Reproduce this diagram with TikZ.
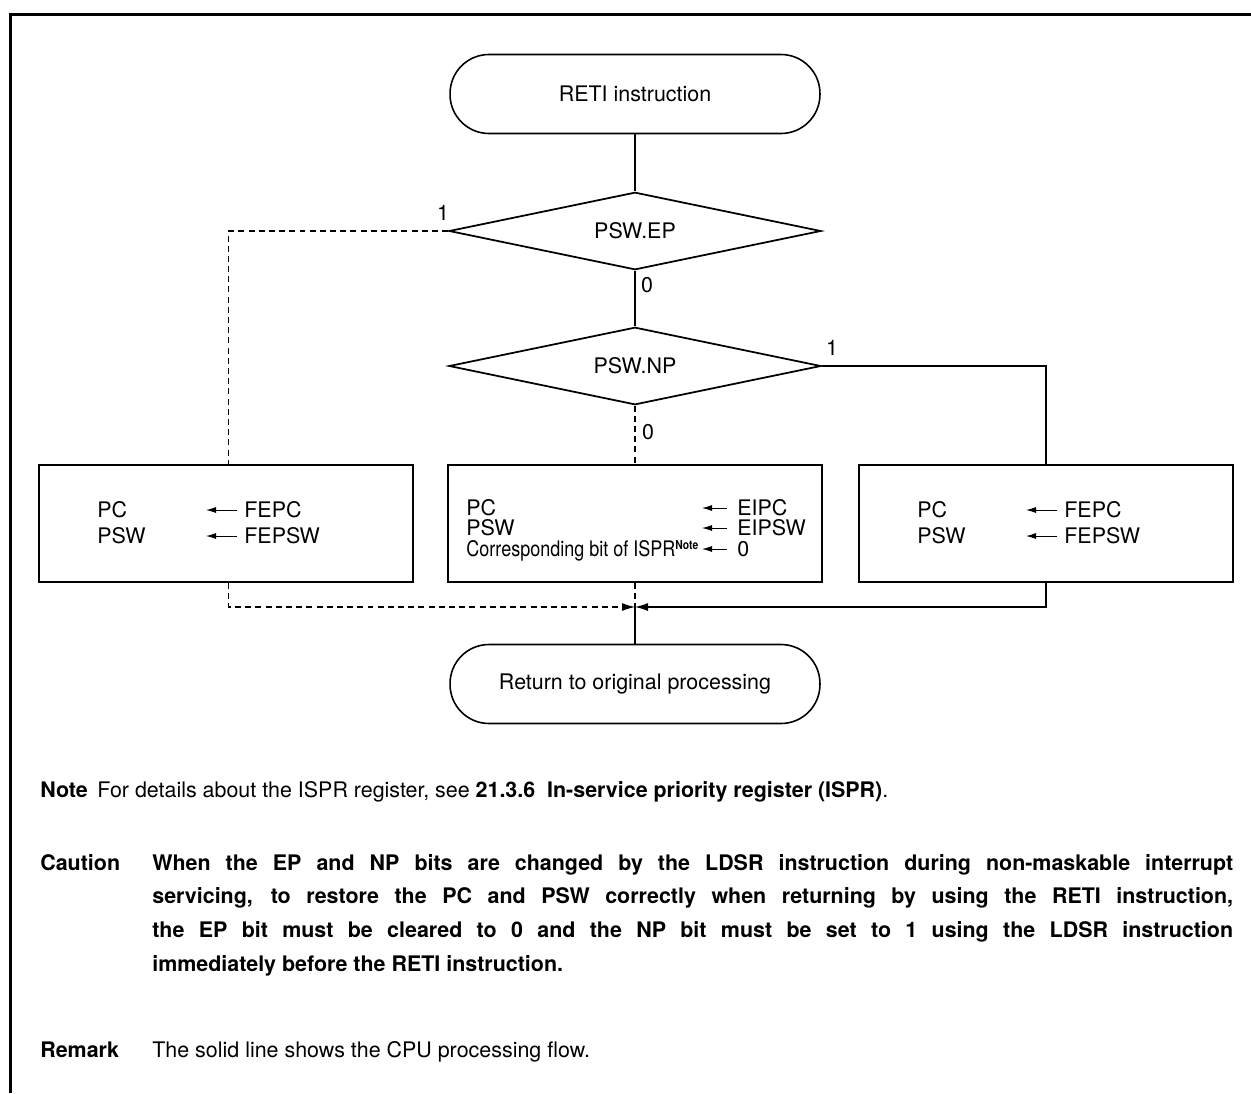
\documentclass[tikz,border=0pt]{standalone}
\usepackage{fontspec}
\setmainfont{TeX Gyre Heros}
\usepackage{graphicx}
\usetikzlibrary{arrows.meta,positioning,shapes.geometric,calc}

\begin{document}
\begin{tikzpicture}[x=0.02cm,y=-0.02cm,font=\fontsize{12.2}{14.6}\selectfont]
  \tikzset{
    term/.style={draw,line width=0.9pt,rounded corners=0.78cm,minimum width=7.4cm,minimum height=1.58cm,inner sep=0pt},
    decide/.style={draw,diamond,shape aspect=4.8,line width=1pt,inner sep=0pt,minimum width=7.44cm,minimum height=1.55cm},
    regbox/.style={draw,line width=1.1pt,minimum width=7.48cm,minimum height=2.34cm},
    flow/.style={line width=0.6pt},
    altflow/.style={flow,dash pattern=on 3.4pt off 2.4pt},
    reg/.style={anchor=west,inner sep=0pt,text height=8.8pt,text depth=0pt},
    lbl/.style={inner sep=0pt},
    assign/.style={-{Latex[length=2mm,width=1.2mm]},line width=0.5pt},
    headtxt/.style={anchor=base west,inner sep=0pt,font=\fontsize{12.2}{14.6}\selectfont\bfseries}
  }
  \useasboundingbox (0,0) rectangle (1251,1093);
  \draw[line width=1.8pt] (10.5,1093) -- (10.5,14.5) -- (1251,14.5);

  % flow chart
  \node[term] (reti) at (635,94) {RETI instruction};
  \node[decide] (ep) at (635,231) {PSW.EP};
  \node[decide] (np) at (635,366) {PSW.NP};
  \node[regbox] (lbox) at (226,523.5) {};
  \node[regbox] (mbox) at (635,523.5) {};
  \node[regbox] (rbox) at (1046,523.5) {};
  \node[term] (ret) at (635,684) {Return to original processing};
  \coordinate (join) at (635,607);

  \node[lbl] (epone) at (443,213) {1};
  \node[lbl] (epzero) at (647,285) {0};
  \node[lbl] (npone) at (832,348) {1};
  \node[lbl] (npzero) at (648,432) {0};

  \draw[flow] (reti) -- (ep);
  \draw[flow] (ep) -- (np);
  \draw[altflow] (ep.west) -| ([xshift=0.05cm]lbox.north);
  \draw[flow] (np.east) -| (rbox.north);
  \draw[altflow] (np) -- (mbox);
  \draw[altflow,-{Latex[length=2.6mm,width=1.6mm]}] ([xshift=0.05cm]lbox.south) |- (join);
  \draw[flow,-{Latex[length=2.6mm,width=1.6mm]}] (rbox.south) |- (join);
  \draw[altflow] (mbox) -- (join);
  \draw[flow] (join) -- (ret);

  % register transfers
  \foreach \b in {lbox,rbox} {
    \node[reg] (\b-pc) at ([xshift=1.18cm,yshift=0.27cm]\b.west) {PC};
    \node[reg] (\b-psw) at ([xshift=1.18cm,yshift=-0.25cm]\b.west) {PSW};
    \node[reg] (\b-fepc) at ([xshift=4.12cm,yshift=0.27cm]\b.west) {FEPC};
    \node[reg] (\b-fepsw) at ([xshift=4.12cm,yshift=-0.25cm]\b.west) {FEPSW};
    \draw[assign] ([xshift=-0.14cm]\b-fepc.west) -- ++(-0.62cm,0);
    \draw[assign] ([xshift=-0.14cm]\b-fepsw.west) -- ++(-0.62cm,0);
  }
  \node[reg] (mpc) at ([xshift=0.38cm,yshift=0.31cm]mbox.west) {PC};
  \node[reg] (mpsw) at ([xshift=0.38cm,yshift=-0.09cm]mbox.west) {PSW};
  \node[reg] (mispr) at ([xshift=0.38cm,yshift=-0.51cm]mbox.west)
    {\scalebox{0.84}[1]{Corresponding bit of ISPR\textsuperscript{\fontsize{7}{8}\selectfont\bfseries Note}}};
  \node[reg] (meipc) at ([xshift=5.8cm,yshift=0.31cm]mbox.west) {EIPC};
  \node[reg] (meipsw) at ([xshift=5.8cm,yshift=-0.09cm]mbox.west) {EIPSW};
  \node[reg] (mzero) at ([xshift=5.8cm,yshift=-0.51cm]mbox.west) {0};
  \draw[assign] ([xshift=-0.2cm]meipc.west) -- ++(-0.5cm,0);
  \draw[assign] ([xshift=-0.2cm]meipsw.west) -- ++(-0.5cm,0);
  \draw[assign] ([xshift=-0.2cm]mzero.west) -- ++(-0.5cm,0);

  % notes below
  \node[headtxt] (notehd) at (40,797) {Note};
  \node[anchor=base west,inner sep=0pt] (notetxt) at (97,797)
    {For details about the ISPR register, see \textbf{21.3.6\ \ In-service priority register (ISPR)}.};
  \node[headtxt] (cauthd) at (40,870) {Caution};
  \node[anchor=base west,inner sep=0pt,text width=21.62cm,align=justify,
    font=\bfseries\fontsize{12.2}{19.2}\selectfont] (cauttxt) at (152,870)
    {When the EP and NP bits are changed by the LDSR instruction during non-maskable interrupt\linebreak
     servicing, to restore the PC and PSW correctly when returning by using the RETI instruction,\linebreak
     the EP bit must be cleared to 0 and the NP bit must be set to 1 using the LDSR instruction\linebreak
     immediately before the RETI instruction.};
  \node[headtxt] (remhd) at (40,1057) {Remark};
  \node[anchor=base west,inner sep=0pt] (remtxt) at (152,1057)
    {The solid line shows the CPU processing flow.};
\end{tikzpicture}
\end{document}
